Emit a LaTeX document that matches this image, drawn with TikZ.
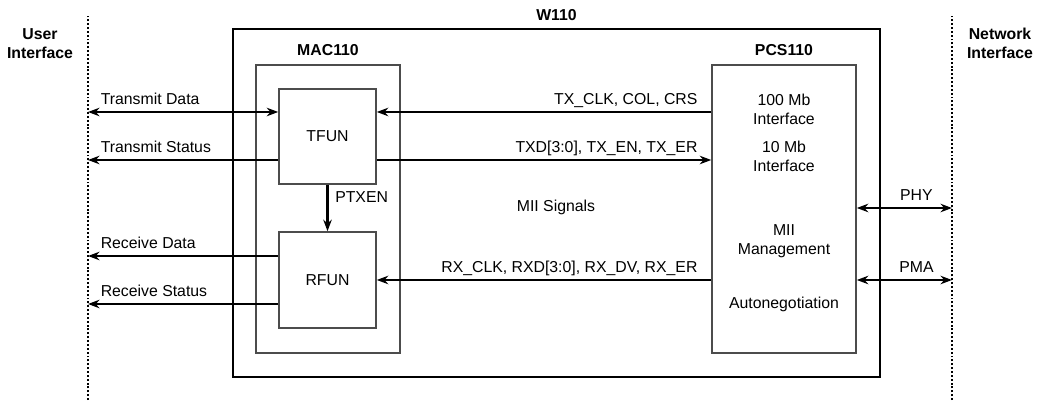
\documentclass[tikz,border=0pt]{standalone}
\usepackage{fontspec}
\setmainfont{Liberation Sans}
\usetikzlibrary{arrows.meta,calc}

\tikzset{
	lbl/.style={font=\fontsize{9}{10.8}\selectfont, inner sep=1pt},
	hdr/.style={font=\fontsize{9}{10.8}\selectfont\bfseries, inner sep=1pt, align=center},
	unitbox/.style={draw=black!70, line width=0.9pt, inner sep=0pt},
	chipbox/.style={draw=black, line width=1.6pt, inner sep=0pt},
	sig/.style={line width=1.15pt, arrows={-Stealth[length=2.3mm, width=1.7mm]}},
	sigboth/.style={line width=1.15pt, arrows={Stealth[length=2.3mm, width=1.7mm]-Stealth[length=2.3mm, width=1.7mm]}},
	border/.style={line width=1.3pt, dash pattern=on 1.1pt off 1.1pt}
}

\begin{document}
\begin{tikzpicture}
			%%%%% START %%%%%
			\useasboundingbox (0, 0) rectangle (20.94, 8);
			
			\draw[border] (1.76, 0) -- (1.76, 7.68);
			\draw[border] (19.04, 0) -- (19.04, 7.68);
			\node[hdr] (useri) at (0.8, 7.13) {User\\Interface};
			\node[hdr] (neti) at (20.0, 7.13) {Network\\Interface};
			
			\node[chipbox, minimum width=12.94cm, minimum height=6.96cm] (w110) at (11.13, 3.94) {};
			\node[hdr] at ($(w110.north)+(0, 0.26)$) {W110};
			
			\node[unitbox, minimum width=2.88cm, minimum height=5.76cm] (mac) at (6.56, 3.82) {};
			\node[hdr] at ($(mac.north)+(0, 0.28)$) {MAC110};
			\node[unitbox, minimum width=2.88cm, minimum height=5.76cm] (pcs) at (15.68, 3.82) {};
			\node[hdr] at ($(pcs.north)+(0, 0.28)$) {PCS110};
			
			\node[unitbox, minimum width=1.94cm, minimum height=1.9cm, lbl] (tfun) at (6.55, 5.27) {TFUN};
			\node[unitbox, minimum width=1.94cm, minimum height=1.92cm, lbl] (rfun) at (6.55, 2.40) {RFUN};
			
			\node[lbl, align=center] (mb100) at (15.68, 5.82) {100 Mb\\Interface};
			\node[lbl, align=center] (mb10) at (15.68, 4.88) {10 Mb\\Interface};
			\node[lbl, align=center] (mgmt) at (15.68, 3.18) {MII\\Management};
			\node[lbl] (aneg) at (15.68, 1.92) {Autonegotiation};
			\node[lbl] (mii) at (11.12, 3.86) {MII Signals};
			
			% user side
			\coordinate (td) at (1.76, 5.76);
			\coordinate (ts) at (1.76, 4.80);
			\coordinate (rd) at (1.76, 2.88);
			\coordinate (rs) at (1.76, 1.92);
			\draw[sigboth] (td) -- node[lbl, pos=0, anchor=base west, xshift=0.2cm, yshift=0.15cm] {Transmit Data} (td -| tfun.west);
			\draw[sig] (ts -| tfun.west) -- node[lbl, pos=1, anchor=base west, xshift=0.2cm, yshift=0.15cm] {Transmit Status} (ts);
			\draw[sig] (rd -| rfun.west) -- node[lbl, pos=1, anchor=base west, xshift=0.2cm, yshift=0.15cm] {Receive Data} (rd);
			\draw[sig] (rs -| rfun.west) -- node[lbl, pos=1, anchor=base west, xshift=0.2cm, yshift=0.15cm] {Receive Status} (rs);
			
			% MII
			\draw[sig] (pcs.west |- td) -- node[lbl, pos=0, anchor=base east, xshift=-0.22cm, yshift=0.15cm] {TX\_CLK, COL, CRS} (tfun.east |- td);
			\draw[sig] (tfun.east |- ts) -- node[lbl, pos=1, anchor=base east, xshift=-0.22cm, yshift=0.15cm] {TXD[3:0], TX\_EN, TX\_ER} (pcs.west |- ts);
			\draw[sig] (pcs.west |- rfun) -- node[lbl, pos=0, anchor=base east, xshift=-0.22cm, yshift=0.15cm] {RX\_CLK, RXD[3:0], RX\_DV, RX\_ER} (rfun.east);
			\draw[sig] (tfun.south) -- node[lbl, pos=0.27, right, xshift=0.1cm] {PTXEN} (rfun.north);
			
			% network side
			\coordinate (phy) at (19.04, 3.84);
			\coordinate (pma) at (19.04, 2.40);
			\draw[sigboth] (pcs.east |- phy) -- node[lbl, anchor=base, xshift=0.24cm, yshift=0.15cm] {PHY} (phy);
			\draw[sigboth] (pcs.east |- pma) -- node[lbl, anchor=base, xshift=0.24cm, yshift=0.15cm] {PMA} (pma);
			%%%%% END %%%%%
\end{tikzpicture}
\end{document}
